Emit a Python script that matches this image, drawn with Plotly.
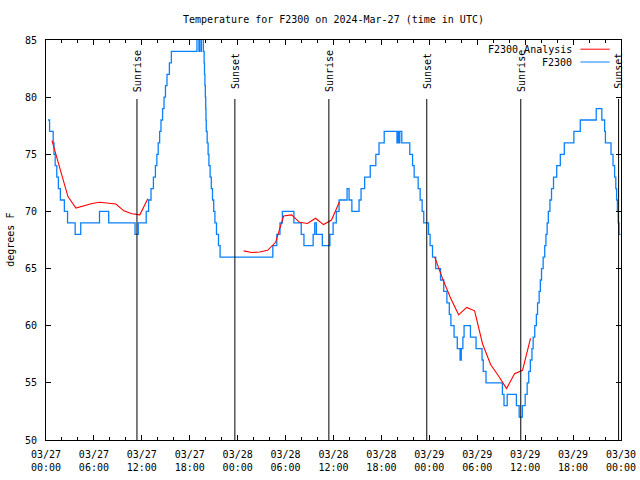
import pandas as pd
import plotly.graph_objects as go

# ---------------- data ----------------
start = "2024-03-27 00:00"

# F2300 observations: hours since start, temperature (deg F), held until next point
obs_hours = [0.25, 0.45, 0.9, 1.0, 1.15, 1.35, 1.55, 1.8, 2.3, 2.7, 3.65, 4.35, 6.7, 7.85,
             11.15, 11.55, 12.55, 12.85, 13.15, 13.45, 13.7, 13.88, 14.05, 14.23, 14.4, 14.6,
             14.78, 14.96, 15.15, 15.45, 15.7, 15.9, 18.9, 19.15, 19.2, 19.4, 19.45, 19.7,
             19.8, 19.85, 19.9, 19.95, 20.0, 20.03, 20.07, 20.18, 20.3, 20.4, 20.55, 20.7,
             20.85, 21.0, 21.15, 21.35, 21.6, 21.8,
             28.4, 28.9, 29.3, 29.6, 31.04, 31.96, 32.3, 33.45, 33.65, 33.85, 34.6, 35.55,
             35.95, 36.35, 36.7, 37.7, 37.95, 38.3, 39.2, 39.45, 39.9, 40.6, 41.3, 41.7,
             42.35, 43.95, 44.05, 44.2, 44.3, 44.55, 45.55, 45.9, 46.1, 46.6, 46.85, 47.1,
             47.3, 47.9, 48.1, 48.4, 48.8, 49.4, 49.8, 50.2, 50.5, 50.7, 51.1, 51.5, 51.85,
             52.0, 52.2, 52.35, 53.15, 53.85, 54.6, 54.75, 55.1, 57.15, 57.35, 57.75, 58.9,
             59.25, 59.65, 60.0, 60.25, 60.45, 60.65, 60.85, 61.0, 61.2, 61.4, 61.55, 61.75,
             61.9, 62.05, 62.25, 62.45, 62.6, 62.75, 62.9, 63.1, 63.3, 63.55, 63.95, 64.4,
             64.9, 66.1, 66.9, 68.9, 69.6, 69.95, 70.05, 70.75, 71.0, 71.2, 71.35, 71.45,
             71.55, 71.65, 71.75, 71.95]
obs_temps = [78, 77, 76, 75, 74, 73, 72, 71, 70, 69, 68, 69, 70, 69,
             68, 69, 70, 71, 72, 73, 74, 75, 76, 77, 78, 79,
             80, 81, 82, 83, 84, 84, 86, 84, 86, 84, 86, 84,
             83, 82, 81, 80, 79, 78, 77, 76, 75, 74, 73, 72,
             71, 70, 69, 68, 67, 66,
             67, 68, 69, 70, 69, 68, 67, 68, 69, 68, 67, 68,
             69, 70, 71, 72, 71, 70, 71, 72, 73, 74, 75, 76,
             77, 76, 77, 76, 77, 76, 75, 74, 73, 72, 71, 70,
             69, 68, 67, 66, 65, 64, 63, 62, 61, 60, 59, 58, 57,
             58, 59, 60, 59, 58, 57, 56, 55, 54, 53, 54, 53,
             52, 53, 54, 55, 56, 57, 58, 59, 60, 61, 62, 63,
             64, 65, 66, 67, 68, 69, 70, 71, 72, 73, 74, 75,
             76, 77, 78, 79, 78, 77, 76, 75, 74, 73, 72, 71,
             70, 69, 68, 68]

# F2300 Analysis: hours since start, temperature (deg F); None marks gaps
ana_hours = [0.75, 1.75, 2.75, 3.75, 4.75, 5.75, 6.75, 7.75, 8.75, 9.75, 10.75, 11.75, 12.75, 18.0,
             24.75, 25.75, 26.75, 27.75, 28.75, 29.75, 30.75, 31.75, 32.75, 33.75, 34.75, 35.75, 36.75, 42.0,
             48.67, 49.67, 50.67, 51.67, 52.67, 53.67, 54.67, 55.67, 56.67, 57.67, 58.67, 59.67, 60.67]
ana_temps = [76.2, 73.8, 71.3, 70.3, 70.5, 70.7, 70.8, 70.7, 70.65, 70.05, 69.8, 69.7, 71.1, None,
             66.55, 66.4, 66.45, 66.6, 67.3, 69.6, 69.7, 69.05, 68.95, 69.4, 68.85, 69.25, 70.85, None,
             66.0, 64.1, 62.4, 60.95, 61.6, 61.3, 58.4, 56.6, 55.6, 54.5, 55.8, 56.1, 58.9]

# sunrise / sunset (hours since start)
sun_hours = [11.39, 23.65, 35.42, 47.68, 59.45, 71.70]
sun_labels = ["Sunrise", "Sunset", "Sunrise", "Sunset", "Sunrise", "Sunset"]

y_range = [50, 85]
title_text = "Temperature for F2300 on 2024-Mar-27 (time in UTC)"

# ---------------- figure ----------------
t0 = pd.Timestamp(start)
def to_time(hours):
    return [t0 + pd.Timedelta(hours=h) for h in hours]

FONT = "DejaVu Sans Mono"
BLUE = "#0a80ff"
RED = "#ff0000"

fig = go.Figure()
fig.add_trace(go.Scatter(x=to_time(obs_hours), y=obs_temps, mode="lines", name="F2300",
                         line=dict(color=BLUE, width=1.3, shape="hv"), showlegend=False))
fig.add_trace(go.Scatter(x=to_time(ana_hours), y=ana_temps, mode="lines", name="F2300 Analysis",
                         line=dict(color=RED, width=1.1), connectgaps=False, showlegend=False))

for h, lab in zip(sun_hours, sun_labels):
    t = t0 + pd.Timedelta(hours=h)
    fig.add_shape(type="line", xref="x", yref="paper", x0=t, x1=t, y0=0, y1=0.8525,
                  line=dict(color="black", width=1))
    fig.add_annotation(x=t, xref="x", y=0.922, yref="paper", text=lab, textangle=-90,
                       showarrow=False, font=dict(family=FONT, size=10, color="black"),
                       xanchor="center", yanchor="middle")

# legend drawn gnuplot-style (text right, sample on the right)
leg = [("F2300 Analysis", RED, 0.977), ("F2300", BLUE, 0.945)]
for name, col, yy in leg:
    fig.add_annotation(x=0.9177, xref="paper", y=yy, yref="paper", text=name, showarrow=False,
                       xanchor="right", yanchor="middle",
                       font=dict(family=FONT, size=10, color="black"))
    fig.add_shape(type="line", xref="paper", yref="paper", x0=0.9294, x1=0.9804, y0=yy, y1=yy,
                  line=dict(color=col, width=1))

fig.add_annotation(x=-0.063, xref="paper", y=0.5, yref="paper", text="degrees F", textangle=-90,
                   showarrow=False, font=dict(family=FONT, size=10, color="black"),
                   xanchor="center", yanchor="middle")

fig.update_layout(
    width=640, height=480,
    margin=dict(l=46, r=19, t=40, b=40),
    paper_bgcolor="white", plot_bgcolor="white",
    title=dict(text=title_text, x=0.521, xanchor="center", y=0.96, yref="container",
               yanchor="middle", font=dict(family=FONT, size=10, color="black")),
    font=dict(family=FONT, size=10, color="black"),
)
fig.update_xaxes(
    type="date", automargin=False,
    range=[t0, t0 + pd.Timedelta(hours=72)],
    tick0=t0, dtick=6 * 3600 * 1000, tickformat="%m/%d<br>%H:%M",
    ticks="inside", ticklen=5, tickcolor="black", tickwidth=1,
    minor=dict(dtick=2 * 3600 * 1000, ticks="inside", ticklen=3, tickcolor="black", tickwidth=1),
    showline=True, linecolor="black", linewidth=1, mirror="allticks",
    showgrid=False, zeroline=False, ticklabelstandoff=5,
    tickfont=dict(family=FONT, size=10, color="black"),
)
fig.update_yaxes(
    range=y_range, dtick=5, tick0=50, automargin=False,
    ticks="inside", ticklen=5, tickcolor="black", tickwidth=1,
    showline=True, linecolor="black", linewidth=1, mirror="allticks",
    showgrid=False, zeroline=False, ticklabelstandoff=6,
    tickfont=dict(family=FONT, size=10, color="black"),
)

fig.write_html("out.html", config={"displayModeBar": False},
               post_script="document.body.style.margin='0';")
